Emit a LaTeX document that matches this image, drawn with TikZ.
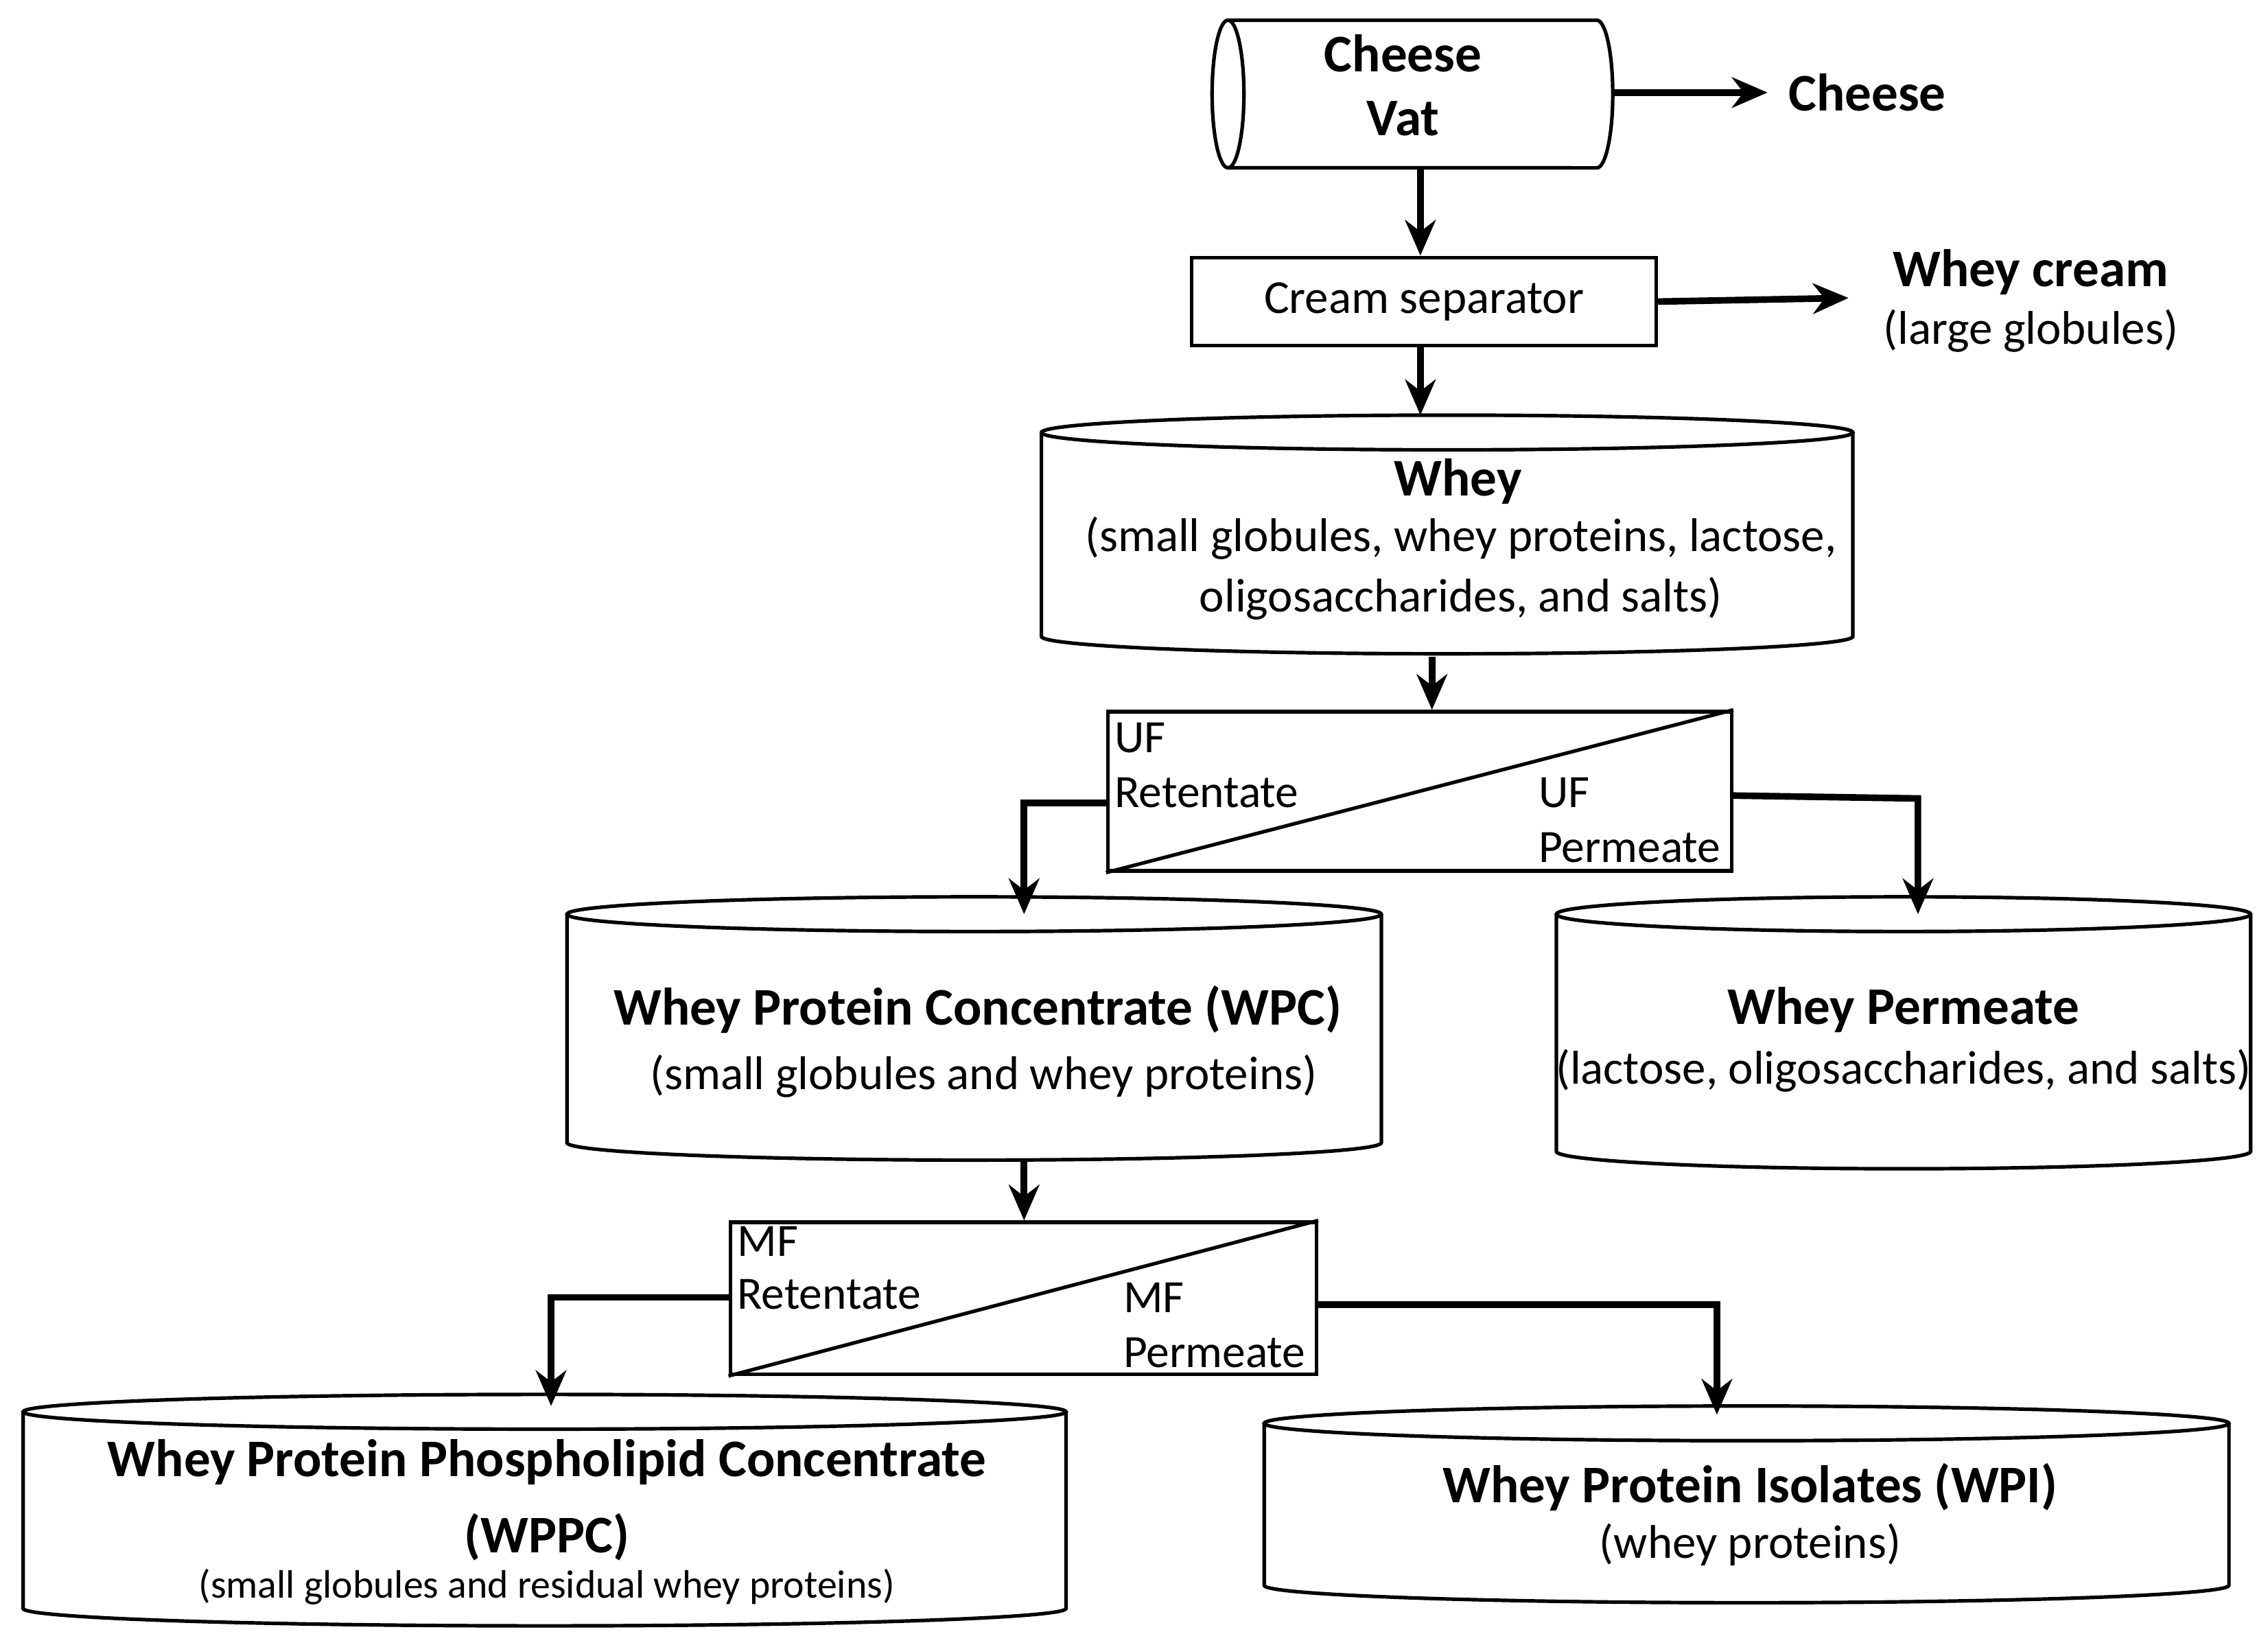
\documentclass[tikz,border=0pt]{standalone}
\usepackage{fontspec}
\setmainfont{Carlito}
\usetikzlibrary{arrows.meta}
\newcommand{\mycyl}[6]{% name x1 y1 x2 y2 ry
  \node[minimum width=(#4-#2)*0.01cm, minimum height=(#5-#3)*0.01cm, inner sep=0pt] (#1) at ({(#2+#4)/2},{(#3+#5)/2}) {};
  \draw[box] (#2,#3+#6) -- (#2,#5-#6) arc[start angle=180,end angle=360,x radius={(#4-#2)/2*0.01cm},y radius=#6*0.01cm] -- (#4,#3+#6);
  \draw[box] ({(#2+#4)/2},#3+#6) ellipse[x radius={(#4-#2)/2*0.01cm},y radius=#6*0.01cm];
}
\begin{document}
\begin{tikzpicture}[x=0.01cm,y=-0.01cm,
  box/.style={line width=0.7pt},
  arr/.style={line width=1.3pt,-{Stealth[length=7pt,width=6pt]}},
  ttl/.style={font=\fontsize{10.4}{12}\selectfont\bfseries},
  txt/.style={font=\fontsize{9.3}{10.8}\selectfont},
  lab/.style={font=\fontsize{9.1}{11}\selectfont,anchor=west,inner sep=0pt}]
\useasboundingbox (0,0) rectangle (1568,1137);
% Cheese vat
\node[minimum width=2.77cm,minimum height=1.02cm,inner sep=0pt] (vat) at (976.5,65) {};
\draw[box] (849,14) -- (1104,14) arc[start angle=90,end angle=-90,x radius=0.11cm,y radius=0.51cm] -- (849,116);
\draw[box] (849,65) ellipse[x radius=0.11cm,y radius=0.51cm];
\node[ttl,align=center] at (970,59) {Cheese\\[0.5pt]Vat};
\coordinate (vatR) at (1115,64);
\node[ttl] (cheese) at (1291,64) {Cheese};
\draw[arr] (vatR) -- (1222,64);
% Cream separator
\node[draw,box,minimum width=3.21cm,minimum height=0.61cm,txt] (sep) at (984.5,208.5) {Cream separator};
\draw[arr] (vat.south -| 982,0) -- (sep.north -| 982,0);
\node[ttl] (wc) at (1404,188) {Whey cream};
\node[txt] at (1404,229) {(large globules)};
\draw[arr] (sep.east) -- (1278,206);
% Whey
\mycyl{whey}{720}{287}{1281}{452}{12}
\node[ttl] at (1008,333) {Whey};
\node[txt,align=center] at (1010,393) {(small globules, whey proteins, lactose,\\[1pt]oligosaccharides, and salts)};
\draw[arr] (sep.south -| 982,0) -- (982,287);
% UF
\node[draw,box,minimum width=4.31cm,minimum height=1.1cm,inner sep=0pt] (uf) at (981.5,547) {};
\draw[box] (uf.south west) -- (uf.north east);
\node[lab] at (770,510) {UF};
\node[lab] at (770,548) {Retentate};
\node[lab] at (1063,548) {UF};
\node[lab] at (1063,586) {Permeate};
\draw[arr] (990,454) -- (uf.north -| 990,0);
% WPC
\mycyl{wpc}{392}{620}{955}{802}{12}
\node[ttl] at (676,698) {Whey Protein Concentrate (WPC)};
\node[txt] at (680,744) {(small globules and whey proteins)};
\draw[arr] (uf.west |- 0,555) -- (708,555) -- (708,632);
% Permeate
\mycyl{wp}{1076}{620}{1556}{808}{12}
\node[ttl] at (1316,698) {Whey Permeate};
\node[txt] at (1316,740) {(lactose, oligosaccharides, and salts)};
\draw[arr] (uf.east |- 0,550) -- (1326,552) -- (1326,632);
% MF
\node[draw,box,minimum width=4.05cm,minimum height=1.05cm,inner sep=0pt] (mf) at (707.5,897.5) {};
\draw[box] (mf.south west) -- (mf.north east);
\node[lab] at (509,858) {MF};
\node[lab] at (509,895) {Retentate};
\node[lab] at (776,897) {MF};
\node[lab] at (776,935) {Permeate};
\draw[arr] (wpc.south -| 708,0) -- (mf.north -| 708,0);
% WPPC
\mycyl{wppc}{16}{964}{737}{1124}{12}
\node[ttl,align=center] at (378,1037) {Whey Protein Phospholipid Concentrate\\[3pt](WPPC)};
\node[font=\fontsize{7.8}{9}\selectfont] at (378,1097) {(small globules and residual whey proteins)};
\draw[arr] (mf.west |- 0,897) -- (381,897) -- (381,972);
% WPI
\mycyl{wpi}{874}{972}{1541}{1108}{12}
\node[ttl] at (1210,1028) {Whey Protein Isolates (WPI)};
\node[txt] at (1210,1068) {(whey proteins)};
\draw[arr] (mf.east |- 0,902) -- (1187,902) -- (1187,978);
\end{tikzpicture}
\end{document}
